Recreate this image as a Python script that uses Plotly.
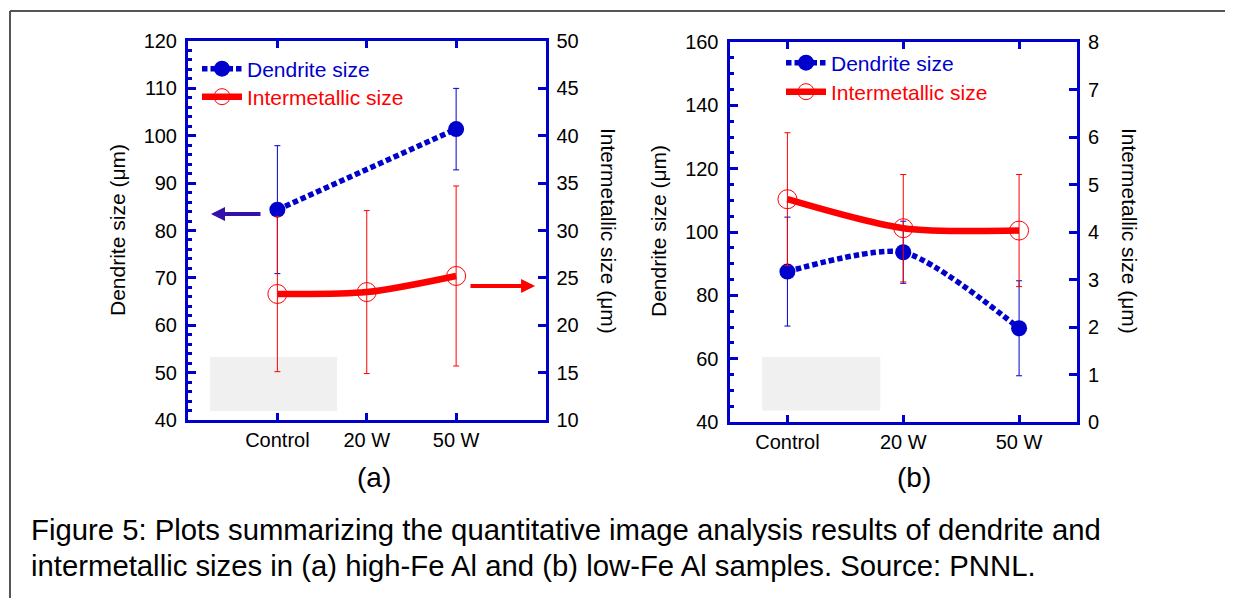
import plotly.graph_objects as go

# ---------------- data ----------------
categories = ["Control", "20 W", "50 W"]

# panel (a): high-Fe Al
a_dendrite = [84.4, None, 101.4]
a_dendrite_err = [13.5, None, 8.6]
a_intermetallic = [23.3, 23.5, 25.2]
a_intermetallic_err = [8.2, 8.6, 9.5]

# panel (b): low-Fe Al
b_dendrite = [87.5, 93.6, 69.6]
b_dendrite_err = [17.2, 9.8, 15.0]
b_intermetallic = [4.69, 4.08, 4.03]
b_intermetallic_err = [1.4, 1.13, 1.18]

BLUE = "#0000CC"
RED = "#FF0000"
FONT = "Arial, Liberation Sans, sans-serif"
W, H = 1233, 598
OFF = 8  # page offset of the figure inside the browser window


def px(x):
    return (x - OFF) / W


def py(y):
    return 1 - (y - OFF) / H


fig = go.Figure()


def add_panel(xa, ya, ya2, dend, dend_err, inter, inter_err, leg_d, leg_i, smooth_d):
    fig.add_trace(go.Scatter(
        x=categories, y=inter, xaxis=xa, yaxis=ya2,
        name="<span style='color:#FF0000'>Intermetallic size</span>",
        mode="lines+markers", line=dict(color=RED, width=6.5, shape="spline", smoothing=0.8),
        marker=dict(symbol="circle-open", size=19, color=RED, line=dict(width=1, color=RED)),
        error_y=dict(type="data", array=inter_err, color=RED, thickness=1, width=3),
        legend=leg_i, connectgaps=True,
    ))
    fig.add_trace(go.Scatter(
        x=categories, y=dend, xaxis=xa, yaxis=ya,
        name="<span style='color:#0000CC'>Dendrite size</span>",
        mode="lines+markers",
        line=dict(color=BLUE, width=5.5, dash="5.5px,3px", shape="spline", smoothing=smooth_d),
        marker=dict(symbol="circle", size=16, color=BLUE),
        error_y=dict(type="data", array=dend_err, color=BLUE, thickness=1, width=3),
        legend=leg_d, connectgaps=True,
    ))


add_panel("x", "y", "y2", a_dendrite, a_dendrite_err, a_intermetallic, a_intermetallic_err,
          "legend", "legend2", 1.0)
add_panel("x2", "y3", "y4", b_dendrite, b_dendrite_err, b_intermetallic, b_intermetallic_err,
          "legend3", "legend4", 0.7)

axis_common = dict(showline=True, linecolor=BLUE, linewidth=3, ticks="inside",
                   tickcolor=BLUE, tickwidth=3, showgrid=False, zeroline=False, automargin=False,
                   tickfont=dict(family=FONT, size=20, color="black"))

left_dom_x = [px(188), px(545.5)]
left_dom_y = [py(420), py(41)]
right_dom_x = [px(729.5), px(1077)]
right_dom_y = [py(422), py(42)]


def leg(x, y):
    return dict(x=px(x), y=py(y), xanchor="left", yanchor="middle", bgcolor="rgba(0,0,0,0)",
                font=dict(family=FONT, size=21), itemwidth=40, borderwidth=0)


fig.update_layout(
    width=W, height=H, margin=dict(l=0, r=0, t=0, b=0, pad=0, autoexpand=False), autosize=False,
    paper_bgcolor="white", plot_bgcolor="white",
    font=dict(family=FONT, color="black"),
    xaxis=dict(axis_common, domain=left_dom_x, anchor="y", type="category",
               categoryarray=categories, range=[-1, 3], mirror="ticks", ticklen=7),
    yaxis=dict(axis_common, domain=left_dom_y, anchor="x", range=[40, 120], dtick=10, ticklen=8,
               ticklabelstandoff=4,
               minor=dict(dtick=2, ticks="inside", ticklen=4, tickwidth=3, tickcolor=BLUE)),
    yaxis2=dict(axis_common, overlaying="y", side="right", anchor="x", range=[10, 50], dtick=5,
                ticklen=8, ticklabelstandoff=4),
    xaxis2=dict(axis_common, domain=right_dom_x, anchor="y3", type="category",
                categoryarray=categories, range=[-0.5, 2.5], mirror="ticks", ticklen=7),
    yaxis3=dict(axis_common, domain=right_dom_y, anchor="x2", range=[40, 160], dtick=20, ticklen=8,
                ticklabelstandoff=4,
                minor=dict(dtick=5, ticks="inside", ticklen=4, tickwidth=3, tickcolor=BLUE)),
    yaxis4=dict(axis_common, overlaying="y3", side="right", anchor="x2", range=[0, 8], dtick=1,
                ticklen=8, ticklabelstandoff=4),
    legend=leg(197, 69),
    legend2=leg(197, 97),
    legend3=leg(781, 63),
    legend4=leg(781, 92),
    showlegend=True,
)

shapes = [
    # figure border (top and left)
    dict(type="line", xref="paper", yref="paper", x0=px(10), y0=0, x1=px(10), y1=py(11),
         line=dict(color="#555555", width=2)),
    dict(type="line", xref="paper", yref="paper", x0=px(10), y0=py(11), x1=1, y1=py(11),
         line=dict(color="#555555", width=2)),
    # grey boxes
    dict(type="rect", xref="x domain", yref="y domain", x0=0.062, x1=0.417, y0=0.024, y1=0.166,
         fillcolor="#F0F0F0", line=dict(width=0), layer="below"),
    dict(type="rect", xref="x2 domain", yref="y3 domain", x0=0.094, x1=0.434, y0=0.03, y1=0.171,
         fillcolor="#F0F0F0", line=dict(width=0), layer="below"),
]
fig.update_layout(shapes=shapes)

title_font = dict(family=FONT, size=21, color="black")
cap_font = dict(family=FONT, size=29.3, color="black")


def ann(text, x, y, font, angle=0, xanchor="center"):
    return dict(text=text, xref="paper", yref="paper", x=px(x), y=py(y), xanchor=xanchor,
                yanchor="middle", textangle=angle, showarrow=False, font=font)


annotations = [
    ann("Dendrite size (\u03bcm)", 118, 230, title_font, -90),
    ann("Intermetallic size (\u03bcm)", 608, 231, title_font, 90),
    ann("Dendrite size (\u03bcm)", 659, 231, title_font, -90),
    ann("Intermetallic size (\u03bcm)", 1129, 231, title_font, 90),
    ann("(a)", 374, 477, dict(family=FONT, size=28, color="black")),
    ann("(b)", 914, 477, dict(family=FONT, size=28, color="black")),
    ann("Figure 5: Plots summarizing the quantitative image analysis results of dendrite and",
        29, 529, cap_font, xanchor="left"),
    ann("intermetallic sizes in (a) high-Fe Al and (b) low-Fe Al samples. Source: PNNL.",
        29, 565, cap_font, xanchor="left"),
    # arrows pointing to the axes
    dict(text="", xref="x", yref="y", x=-0.743, y=83.5, axref="x", ayref="y", ax=-0.172, ay=83.5,
         showarrow=True, arrowhead=2, arrowsize=0.7, arrowwidth=4, arrowcolor="#3311AA", standoff=0),
    dict(text="", xref="x", yref="y", x=2.883, y=68.3, axref="x", ayref="y", ax=2.144, ay=68.3,
         showarrow=True, arrowhead=2, arrowsize=0.7, arrowwidth=4, arrowcolor=RED, standoff=0),
]
fig.update_layout(annotations=annotations)

fig.write_html("out.html")
